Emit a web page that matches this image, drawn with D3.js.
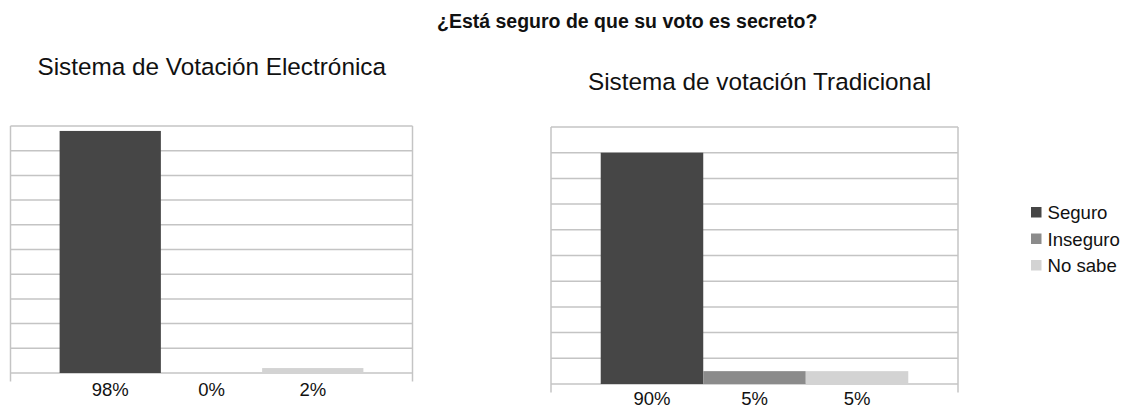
<!DOCTYPE html>
<html>
<head>
<meta charset="utf-8">
<script src="https://cdn.jsdelivr.net/npm/d3@7"></script>
<style>
  html, body { margin: 0; padding: 0; background: #fff; }
  svg { display: block; font-family: "Liberation Sans", Arial, sans-serif; }
</style>
</head>
<body>
<svg id="chart" width="1128" height="408"></svg>
<script>
// ---- data ----
const mainTitle = "¿Está seguro de que su voto es secreto?";
const series = ["Seguro", "Inseguro", "No sabe"];
const panelTitles = ["Sistema de Votación Electrónica", "Sistema de votación Tradicional"];
const valuesElectronica = [98, 0, 2];
const valuesTradicional = [90, 5, 5];
const labelsElectronica = ["98%", "0%", "2%"];
const labelsTradicional = ["90%", "5%", "5%"];
const yTicks = [0, 10, 20, 30, 40, 50, 60, 70, 80, 90, 100];

// ---- styles ----
const colors = ["#464646", "#8b8b8b", "#d3d3d3"];
const gridColor = "#c4c4c4";
const textColor = "#111";

const svg = d3.select("#chart");

svg.append("text")
  .attr("x", 437).attr("y", 28)
  .attr("font-size", 19.5).attr("font-weight", "bold")
  .attr("fill", textColor)
  .text(mainTitle);

const panels = [
  { title: panelTitles[0], values: valuesElectronica, labels: labelsElectronica,
    x0: 10.5, x1: 412.5, yBottom: 373, yTop: 126, titleX: 37.5, titleY: 75, labelY: 396 },
  { title: panelTitles[1], values: valuesTradicional, labels: labelsTradicional,
    x0: 551, x1: 958, yBottom: 384, yTop: 127, titleX: 588, titleY: 90, labelY: 405 }
];

panels.forEach(p => {
  const g = svg.append("g");
  const x = d3.scaleBand().domain(series).range([p.x0, p.x1]).paddingInner(0).paddingOuter(0.485);
  const y = d3.scaleLinear().domain([0, 100]).range([p.yBottom, p.yTop]);

  // title
  g.append("text")
    .attr("x", p.titleX).attr("y", p.titleY)
    .attr("font-size", 24.3).attr("fill", textColor)
    .text(p.title);

  // gridlines
  g.selectAll("line.grid").data(yTicks).join("line")
    .attr("class", "grid")
    .attr("x1", p.x0).attr("x2", p.x1)
    .attr("y1", d => y(d)).attr("y2", d => y(d))
    .attr("stroke", gridColor).attr("stroke-width", 1.5);

  // side borders
  [p.x0, p.x1].forEach(xx => {
    g.append("line")
      .attr("x1", xx).attr("x2", xx)
      .attr("y1", y(100)).attr("y2", y(0) + 8.5)
      .attr("stroke", gridColor).attr("stroke-width", 1.5);
  });

  // bars
  g.selectAll("rect.bar").data(series).join("rect")
    .attr("class", "bar")
    .attr("x", d => x(d))
    .attr("width", x.bandwidth())
    .attr("y", (d, i) => y(p.values[i]))
    .attr("height", (d, i) => y(0) - y(p.values[i]))
    .attr("fill", (d, i) => colors[i]);

  // labels
  g.selectAll("text.lbl").data(series).join("text")
    .attr("class", "lbl")
    .attr("x", d => x(d) + x.bandwidth() / 2)
    .attr("y", p.labelY)
    .attr("text-anchor", "middle")
    .attr("font-size", 18.5).attr("fill", textColor)
    .text((d, i) => p.labels[i]);
});

// legend
const legendY = d3.scalePoint().domain(series).range([212.5, 265.5]);
const lg = svg.append("g");
lg.selectAll("rect").data(series).join("rect")
  .attr("x", 1031).attr("y", d => legendY(d) - 5.5)
  .attr("width", 10.5).attr("height", 10.5)
  .attr("fill", (d, i) => colors[i]);
lg.selectAll("text").data(series).join("text")
  .attr("x", 1047.5).attr("y", d => legendY(d) + 6.5)
  .attr("font-size", 18.6).attr("fill", textColor)
  .text(d => d);
</script>
</body>
</html>
